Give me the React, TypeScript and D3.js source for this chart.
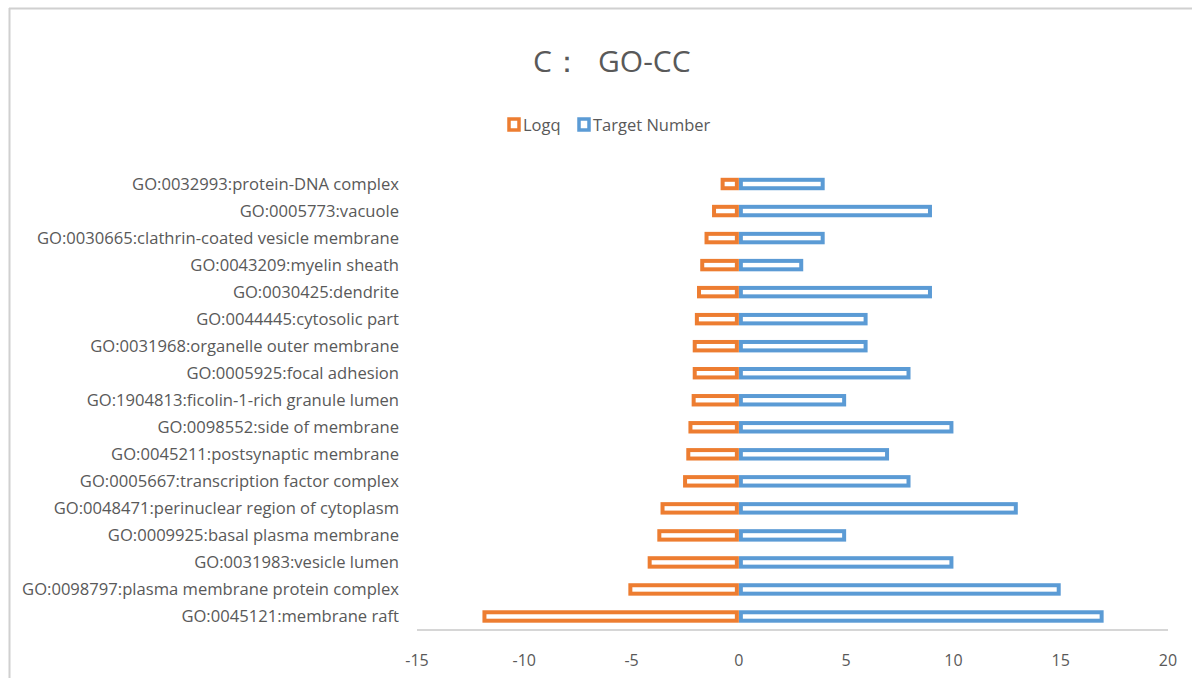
import React from "react";
import * as d3 from "d3";

const categories = [
  "GO:0032993:protein-DNA complex",
  "GO:0005773:vacuole",
  "GO:0030665:clathrin-coated vesicle membrane",
  "GO:0043209:myelin sheath",
  "GO:0030425:dendrite",
  "GO:0044445:cytosolic part",
  "GO:0031968:organelle outer membrane",
  "GO:0005925:focal adhesion",
  "GO:1904813:ficolin-1-rich granule lumen",
  "GO:0098552:side of membrane",
  "GO:0045211:postsynaptic membrane",
  "GO:0005667:transcription factor complex",
  "GO:0048471:perinuclear region of cytoplasm",
  "GO:0009925:basal plasma membrane",
  "GO:0031983:vesicle lumen",
  "GO:0098797:plasma membrane protein complex",
  "GO:0045121:membrane raft",
];

const logq = [
  -0.85, -1.25, -1.6, -1.8, -1.95, -2.05, -2.15, -2.15, -2.2, -2.35, -2.45,
  -2.6, -3.65, -3.8, -4.25, -5.15, -11.95,
];

const targetNumber = [4, 9, 4, 3, 9, 6, 6, 8, 5, 10, 7, 8, 13, 5, 10, 15, 17];

const xTicks = [-15, -10, -5, 0, 5, 10, 15, 20];

const seriesNames = ["Logq", "Target Number"];
const seriesColors = ["#ED7D31", "#5B9BD5"];

const FONT = "'Open Sans', 'Noto Sans', sans-serif";
const TEXT = "#595959";

export default function App() {
  const x = d3.scaleLinear().domain([-15, 20]).range([417, 1168]);
  const y = d3
    .scaleBand<string>()
    .domain(categories)
    .range([170.5, 630])
    .paddingInner(0.54)
    .paddingOuter(0.27);

  const sw = 4;
  const bh = y.bandwidth() - sw;

  const barRect = (v: number, cat: string, color: string, key: string) => {
    const x0 = x(Math.min(0, v));
    const x1 = x(Math.max(0, v));
    const cy = (y(cat) as number) + y.bandwidth() / 2;
    return (
      <rect
        key={key}
        x={x0 + sw / 2}
        y={cy - bh / 2}
        width={Math.max(0, x1 - x0 - sw)}
        height={bh}
        fill="#ffffff"
        stroke={color}
        strokeWidth={sw}
      />
    );
  };

  return (
    <svg
      width={1192}
      height={678}
      style={{ position: "absolute", left: 0, top: 0, background: "#ffffff" }}
      fontFamily={FONT}
    >
      <rect x={0} y={0} width={1192} height={678} fill="#ffffff" />
      {/* chart border */}
      <line x1={9.5} y1={8} x2={9.5} y2={678} stroke="#d0d0d0" strokeWidth={2} />
      <line x1={9} y1={8.5} x2={1192} y2={8.5} stroke="#d0d0d0" strokeWidth={2} />

      {/* title */}
      <text x={533} y={72} fontSize={30} fill={TEXT}>
        <tspan>C：</tspan>
        <tspan x={598}>GO-CC</tspan>
      </text>

      {/* legend */}
      <g>
        <rect x={509} y={119} width={10} height={11} fill="#fff" stroke={seriesColors[0]} strokeWidth={3.5} />
        <text x={523} y={131} fontSize={16.5} fill={TEXT}>
          {seriesNames[0]}
        </text>
        <rect x={579} y={119} width={10} height={11} fill="#fff" stroke={seriesColors[1]} strokeWidth={3.5} />
        <text x={593} y={131} fontSize={16.5} fill={TEXT}>
          {seriesNames[1]}
        </text>
      </g>

      {/* category labels */}
      {categories.map((c) => (
        <text
          key={c}
          x={399}
          y={(y(c) as number) + y.bandwidth() / 2}
          dy="0.35em"
          textAnchor="end"
          fontSize={16.6}
          fill={TEXT}
        >
          {c}
        </text>
      ))}

      {/* bars: blue first, orange on top */}
      {categories.map((c, i) => barRect(targetNumber[i], c, seriesColors[1], "t" + i))}
      {categories.map((c, i) => barRect(logq[i], c, seriesColors[0], "l" + i))}

      {/* x axis */}
      <line x1={x(-15)} y1={630} x2={x(20)} y2={630} stroke="#c8c8c8" strokeWidth={1.5} />
      {xTicks.map((t) => (
        <text key={t} x={x(t)} y={666} textAnchor="middle" fontSize={16} fill={TEXT}>
          {t}
        </text>
      ))}
    </svg>
  );
}
